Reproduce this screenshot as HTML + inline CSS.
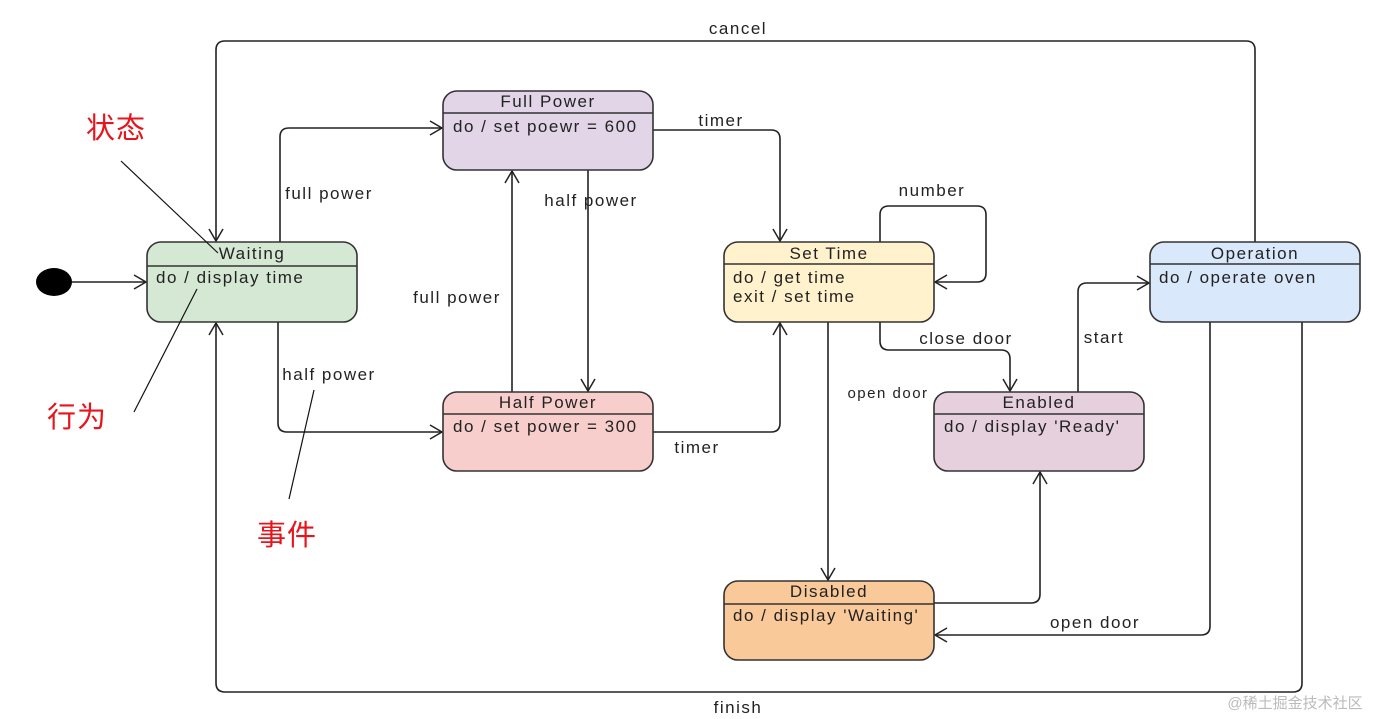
<!DOCTYPE html>
<html><head><meta charset="utf-8"><style>
html,body{margin:0;padding:0;background:#fff;}
svg{display:block;}
text{font-family:"Liberation Sans",Arial,sans-serif;fill:#222;letter-spacing:1.5px;}
.cn{font-family:"Liberation Sans","Noto Sans CJK SC",sans-serif;fill:#e8141b;font-size:29px;letter-spacing:1px;}
</style></head><body>
<svg width="1382" height="719" viewBox="0 0 1382 719" xmlns="http://www.w3.org/2000/svg">
<defs>
<marker id="a" markerWidth="16" markerHeight="16" refX="13" refY="8" orient="auto" markerUnits="userSpaceOnUse">
<path d="M1,1 L13,8 L1,15" fill="none" stroke="#222" stroke-width="1.5"/>
</marker>
</defs>
<g fill="none" stroke="#222" stroke-width="1.6">
<path d="M72,282 H146" marker-end="url(#a)"/>
<path d="M1255,242 V50 Q1255,41 1246,41 H225 Q216,41 216,50 V241" marker-end="url(#a)"/>
<path d="M1302,322 V683 Q1302,692 1293,692 H225 Q216,692 216,683 V323" marker-end="url(#a)"/>
<path d="M280,242 V137 Q280,128 289,128 H442" marker-end="url(#a)"/>
<path d="M278,322 V423 Q278,432 287,432 H442" marker-end="url(#a)"/>
<path d="M588,170 V391" marker-end="url(#a)"/>
<path d="M512,392 V171" marker-end="url(#a)"/>
<path d="M653,130 H771 Q780,130 780,139 V241" marker-end="url(#a)"/>
<path d="M653,432 H771 Q780,432 780,423 V323" marker-end="url(#a)"/>
<path d="M880,242 V215 Q880,206 889,206 H977 Q986,206 986,215 V273 Q986,282 977,282 H935" marker-end="url(#a)"/>
<path d="M880,322 V341 Q880,350 889,350 H1001 Q1010,350 1010,359 V391" marker-end="url(#a)"/>
<path d="M828,322 V580" marker-end="url(#a)"/>
<path d="M1078,392 V292 Q1078,283 1087,283 H1149" marker-end="url(#a)"/>
<path d="M934,603 H1031 Q1040,603 1040,594 V472" marker-end="url(#a)"/>
<path d="M1210,322 V626 Q1210,635 1201,635 H935" marker-end="url(#a)"/>
</g>
<ellipse cx="54" cy="282" rx="18" ry="14" fill="#000"/>
<g stroke="#333" stroke-width="1.6">
<rect x="147" y="242" width="210" height="80" rx="14" fill="#d5e8d4"/>
<line x1="147" y1="266" x2="357" y2="266"/>
<rect x="443" y="91" width="210" height="79" rx="14" fill="#e1d5e7"/>
<line x1="443" y1="113" x2="653" y2="113"/>
<rect x="443" y="392" width="210" height="79" rx="14" fill="#f8cecc"/>
<line x1="443" y1="414" x2="653" y2="414"/>
<rect x="724" y="242" width="210" height="80" rx="14" fill="#fff2cc"/>
<line x1="724" y1="264" x2="934" y2="264"/>
<rect x="934" y="392" width="210" height="79" rx="14" fill="#e6d0de"/>
<line x1="934" y1="414" x2="1144" y2="414"/>
<rect x="724" y="581" width="210" height="79" rx="14" fill="#fac99a"/>
<line x1="724" y1="604" x2="934" y2="604"/>
<rect x="1150" y="242" width="210" height="80" rx="14" fill="#dae8fc"/>
<line x1="1150" y1="264" x2="1360" y2="264"/>
</g>
<g font-size="17">
<text x="252" y="259" text-anchor="middle">Waiting</text>
<text x="156" y="283">do / display time</text>
<text x="548" y="107" text-anchor="middle">Full Power</text>
<text x="453" y="132">do / set poewr = 600</text>
<text x="548" y="408" text-anchor="middle">Half Power</text>
<text x="453" y="432">do / set power = 300</text>
<text x="829" y="259" text-anchor="middle">Set Time</text>
<text x="733" y="283">do / get time</text>
<text x="733" y="302">exit / set time</text>
<text x="1039" y="408" text-anchor="middle">Enabled</text>
<text x="944" y="432">do / display 'Ready'</text>
<text x="829" y="597" text-anchor="middle">Disabled</text>
<text x="733" y="621">do / display 'Waiting'</text>
<text x="1255" y="259" text-anchor="middle">Operation</text>
<text x="1159" y="283">do / operate oven</text>
</g>
<g font-size="17">
<text x="738" y="34" text-anchor="middle">cancel</text>
<text x="738" y="713" text-anchor="middle">finish</text>
<text x="329" y="199" text-anchor="middle">full power</text>
<text x="329" y="380" text-anchor="middle">half power</text>
<text x="591" y="206" text-anchor="middle">half power</text>
<text x="457" y="303" text-anchor="middle">full power</text>
<text x="721" y="126" text-anchor="middle">timer</text>
<text x="697" y="453" text-anchor="middle">timer</text>
<text x="932" y="196" text-anchor="middle">number</text>
<text x="966" y="344" text-anchor="middle">close door</text>
<text x="888" y="398" text-anchor="middle" font-size="15">open door</text>
<text x="1104" y="343" text-anchor="middle">start</text>
<text x="1095" y="628" text-anchor="middle">open door</text>
</g>
<g stroke="#111" stroke-width="1.2">
<line x1="121" y1="161" x2="218" y2="253"/>
<line x1="134" y1="412" x2="197" y2="289"/>
<line x1="289" y1="499" x2="314" y2="390"/>
</g>
<text class="cn" x="86" y="138">状态</text>
<text class="cn" x="47" y="427">行为</text>
<text class="cn" x="257" y="545">事件</text>
<text x="1295" y="708" text-anchor="middle" font-size="15" style="fill:#bbb;letter-spacing:0;font-family:'Liberation Sans','Noto Sans CJK SC',sans-serif">@稀土掘金技术社区</text>
</svg>
</body></html>
